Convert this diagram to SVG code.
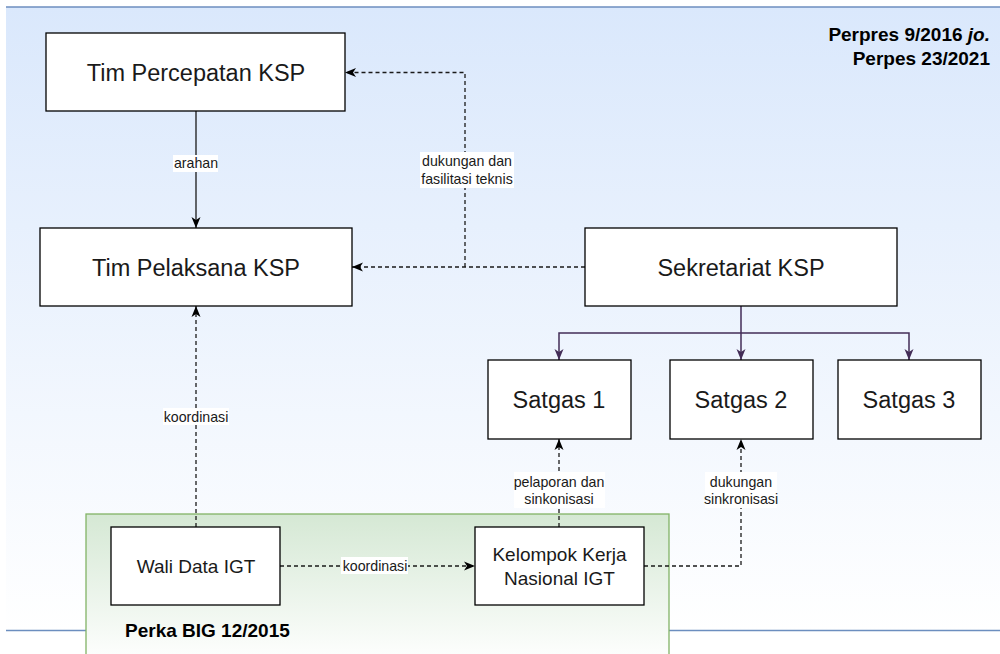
<svg xmlns="http://www.w3.org/2000/svg" width="1000" height="654" viewBox="0 0 1000 654">
  <defs>
    <linearGradient id="bgGrad" x1="0" y1="0" x2="0" y2="1">
      <stop offset="0" stop-color="#dae8fc"/>
      <stop offset="1" stop-color="#ffffff"/>
    </linearGradient>
    <linearGradient id="greenGrad" x1="0" y1="0" x2="0" y2="1">
      <stop offset="0" stop-color="#d5e8d4"/>
      <stop offset="1" stop-color="#ffffff"/>
    </linearGradient>
    <marker id="arrBlack" markerUnits="userSpaceOnUse" markerWidth="12" markerHeight="12" viewBox="0 0 12 10" refX="11" refY="5" orient="auto">
      <path d="M0,0.5 L11,5 L0,9.5 L3,5 Z" fill="#000000"/>
    </marker>
    <marker id="arrPurple" markerUnits="userSpaceOnUse" markerWidth="12" markerHeight="12" viewBox="0 0 12 10" refX="11" refY="5" orient="auto">
      <path d="M0,0.5 L11,5 L0,9.5 L3,5 Z" fill="#432d57"/>
    </marker>
  </defs>
  <style>
    .node rect { fill: #ffffff; stroke: #000000; stroke-width: 1.3; }
    .big { font-family: "Liberation Sans", Arial, sans-serif; font-size: 23.5px; fill: #1a1a1a; text-anchor: middle; }
    .mid { font-family: "Liberation Sans", Arial, sans-serif; font-size: 19px; fill: #1a1a1a; text-anchor: middle; }
    .lbl { font-family: "Liberation Sans", Arial, sans-serif; font-size: 14.2px; fill: #1a1a1a; text-anchor: middle; }
    .bold { font-family: "Liberation Sans", Arial, sans-serif; font-size: 19px; font-weight: bold; fill: #000000; }
    .lblbg { fill: #ffffff; }
    .solid { fill: none; stroke: #1a1a1a; stroke-width: 1.3; }
    .dash { fill: none; stroke: #1a1a1a; stroke-width: 1.3; stroke-dasharray: 4 3; }
    .purple { fill: none; stroke: #432d57; stroke-width: 1.5; }
  </style>

  <!-- background container -->
  <g id="background">
    <rect x="6" y="7" width="994" height="624" fill="url(#bgGrad)"/>
    <line x1="6" y1="7" x2="1000" y2="7" stroke="#6c8ebf" stroke-width="1.5"/>
    <line x1="6" y1="630.5" x2="1000" y2="630.5" stroke="#6c8ebf" stroke-width="1.5"/>
  </g>

  <g id="perpres-note">
    <text class="bold" x="990" y="41" text-anchor="end">Perpres 9/2016 <tspan font-style="italic">jo.</tspan></text>
    <text class="bold" x="990" y="64.5" text-anchor="end">Perpes 23/2021</text>
  </g>

  <!-- green container -->
  <g id="perka-big">
    <rect x="86" y="514" width="583" height="150" fill="url(#greenGrad)" stroke="#82b366" stroke-width="1.3"/>
    <text class="bold" x="125" y="637">Perka BIG 12/2015</text>
  </g>

  <!-- connectors -->
  <g id="connectors">
    <line class="solid" x1="196" y1="111" x2="196" y2="228" marker-end="url(#arrBlack)"/>
    <line class="dash" x1="585" y1="267" x2="352" y2="267" marker-end="url(#arrBlack)"/>
    <polyline class="dash" points="465,267 465,72.5 345,72.5" marker-end="url(#arrBlack)"/>
    <line class="purple" x1="741" y1="306" x2="741" y2="360" marker-end="url(#arrPurple)"/>
    <polyline class="purple" points="741,333 559,333 559,360" marker-end="url(#arrPurple)"/>
    <polyline class="purple" points="741,333 909,333 909,360" marker-end="url(#arrPurple)"/>
    <line class="dash" x1="196" y1="527" x2="196" y2="306" marker-end="url(#arrBlack)"/>
    <line class="dash" x1="280" y1="566" x2="475" y2="566" marker-end="url(#arrBlack)"/>
    <line class="dash" x1="559" y1="527" x2="559" y2="439" marker-end="url(#arrBlack)"/>
    <polyline class="dash" points="644,566 741,566 741,439" marker-end="url(#arrBlack)"/>

    <!-- labels -->
    <rect class="lblbg" x="173" y="155" width="45" height="17"/>
    <text class="lbl" x="196" y="168">arahan</text>

    <rect class="lblbg" x="420" y="152" width="94" height="36"/>
    <text class="lbl" x="467" y="166">dukungan dan</text>
    <text class="lbl" x="467" y="184">fasilitasi teknis</text>

    <rect class="lblbg" x="163" y="408" width="66" height="17"/>
    <text class="lbl" x="196" y="422">koordinasi</text>

    <rect class="lblbg" x="341" y="557" width="67" height="17"/>
    <text class="lbl" x="375" y="571">koordinasi</text>

    <rect class="lblbg" x="514" y="472" width="91" height="36"/>
    <text class="lbl" x="559" y="486.5">pelaporan dan</text>
    <text class="lbl" x="559" y="504">sinkonisasi</text>

    <rect class="lblbg" x="705" y="472" width="72" height="36"/>
    <text class="lbl" x="741" y="486.5">dukungan</text>
    <text class="lbl" x="741" y="504">sinkronisasi</text>
  </g>

  <!-- nodes -->
  <g id="tim-percepatan" class="node">
    <rect x="46" y="33" width="299" height="78"/>
    <text class="big" x="196" y="80.5">Tim Percepatan KSP</text>
  </g>
  <g id="tim-pelaksana" class="node">
    <rect x="40" y="228" width="312" height="78"/>
    <text class="big" x="196" y="275.5">Tim Pelaksana KSP</text>
  </g>
  <g id="sekretariat" class="node">
    <rect x="585" y="228" width="312" height="78"/>
    <text class="big" x="741" y="275.5">Sekretariat KSP</text>
  </g>
  <g id="satgas-1" class="node">
    <rect x="488" y="360" width="143" height="79"/>
    <text class="big" x="559" y="408">Satgas 1</text>
  </g>
  <g id="satgas-2" class="node">
    <rect x="670" y="360" width="143" height="79"/>
    <text class="big" x="741" y="408">Satgas 2</text>
  </g>
  <g id="satgas-3" class="node">
    <rect x="838" y="360" width="143" height="79"/>
    <text class="big" x="909" y="408">Satgas 3</text>
  </g>
  <g id="wali-data" class="node">
    <rect x="111" y="527" width="169" height="78"/>
    <text class="mid" x="196" y="573">Wali Data IGT</text>
  </g>
  <g id="kelompok-kerja" class="node">
    <rect x="475" y="527" width="169" height="78"/>
    <text class="mid" x="559.5" y="561">Kelompok Kerja</text>
    <text class="mid" x="559.5" y="585">Nasional IGT</text>
  </g>
</svg>
